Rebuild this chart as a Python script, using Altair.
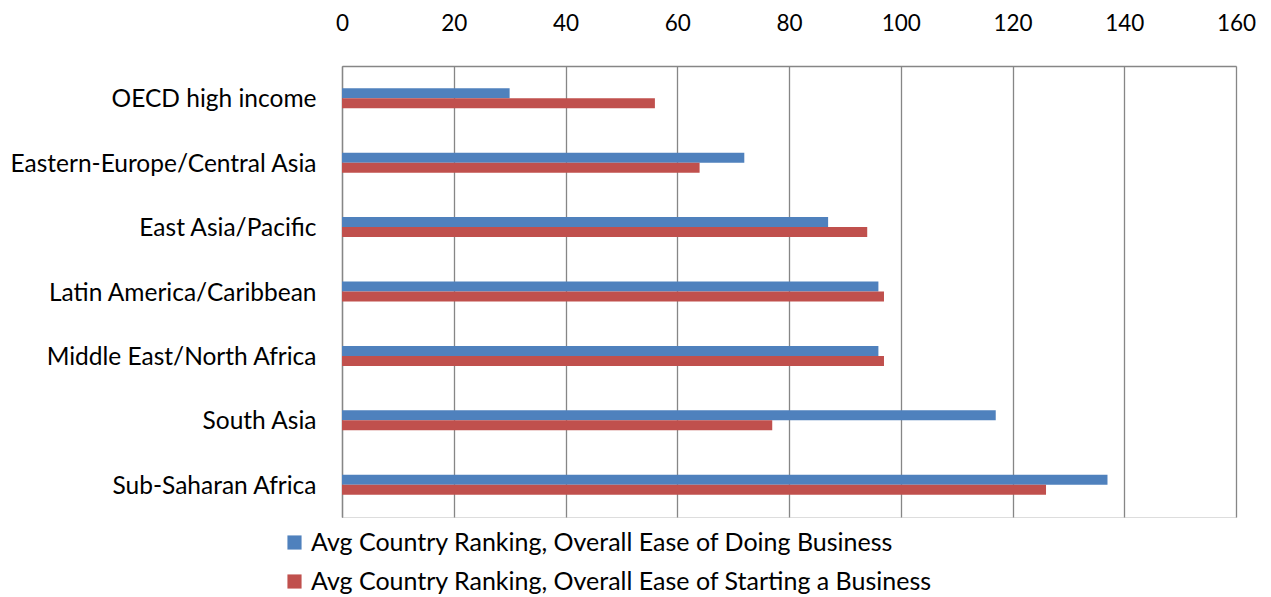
import altair as alt
import pandas as pd

regions = ["OECD high income", "Eastern-Europe/Central Asia", "East Asia/Pacific",
           "Latin America/Caribbean", "Middle East/North Africa", "South Asia",
           "Sub-Saharan Africa"]
doing = [30, 72, 87, 96, 96, 117, 137]
starting = [56, 64, 94, 97, 97, 77, 126]
series = ["Avg Country Ranking, Overall Ease of Doing Business",
          "Avg Country Ranking, Overall Ease of Starting a Business"]
colors = ["#4F81BD", "#C0504D"]
ticks = [0, 20, 40, 60, 80, 100, 120, 140, 160]

rows = []
for r, d, s in zip(regions, doing, starting):
    rows.append({"region": r, "series": series[0], "value": d})
    rows.append({"region": r, "series": series[1], "value": s})
df = pd.DataFrame(rows)

FONT = "Lato"

chart = alt.Chart(df).mark_bar().encode(
    y=alt.Y("region:N", sort=regions, title=None,
            scale=alt.Scale(paddingInner=0.69, paddingOuter=0.345),
            axis=alt.Axis(ticks=False, labelPadding=26, labelFontSize=24.5,
                          labelFont=FONT, labelColor="#000000", labelLimit=400,
                          labelOffset=2,
                          domainColor="#868686", domainWidth=1.3)),
    x=alt.X("value:Q", title=None,
            scale=alt.Scale(domain=[0, 160], nice=False),
            axis=alt.Axis(orient="top", values=ticks, ticks=False, grid=True,
                          gridColor="#868686", gridWidth=1.3,
                          domainColor="#868686", domainWidth=1.3,
                          labelPadding=31, labelFontSize=22.5, labelFont=FONT,
                          labelColor="#000000", labelFlush=False)),
    yOffset=alt.YOffset("series:N", sort=series),
    color=alt.Color("series:N", sort=series,
                    scale=alt.Scale(domain=series, range=colors),
                    legend=alt.Legend(title=None, orient="none", legendX=-60,
                                      legendY=464, direction="vertical",
                                      symbolType="square", symbolSize=200,
                                      symbolStrokeWidth=0, labelFontSize=25,
                                      labelFont=FONT, labelColor="#000000",
                                      labelLimit=800, rowPadding=13,
                                      symbolOffset=0, labelOffset=4)),
).properties(
    width=894, height=451,
    padding={"left": 342, "top": 66, "right": 35, "bottom": 80},
    autosize=alt.AutoSizeParams(type="none"),
).configure_view(stroke=None).configure(background="white")

chart.save("out.html", embed_options={"renderer": "svg", "actions": False})
